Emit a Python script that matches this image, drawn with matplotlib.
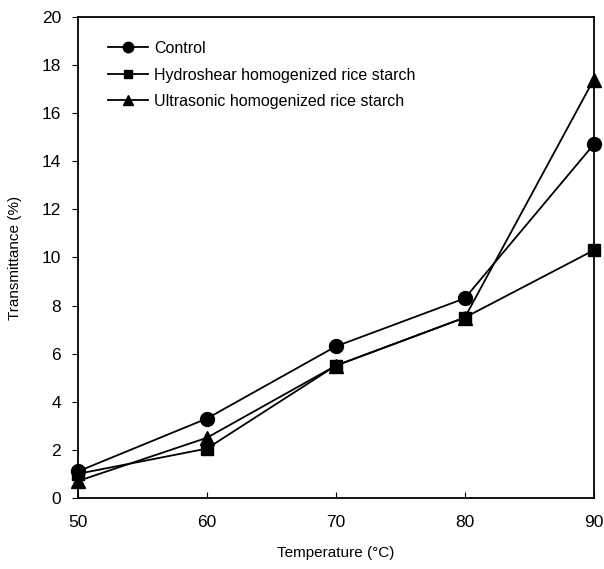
import matplotlib.pyplot as plt

plt.rcParams['font.family'] = ['Liberation Sans', 'DejaVu Sans']

temperature = [50, 60, 70, 80, 90]
control = [1.1, 3.3, 6.3, 8.3, 14.7]
hydroshear = [1.0, 2.05, 5.5, 7.5, 10.3]
ultrasonic = [0.7, 2.5, 5.5, 7.5, 17.4]

fig = plt.figure(figsize=(6.04, 5.69), dpi=100)
ax = fig.add_axes([0.129, 0.125, 0.854, 0.845])

ax.plot(temperature, control, color='black', marker='o', markersize=10, lw=1.3,
        label='Control', clip_on=False, zorder=3)
ax.plot(temperature, hydroshear, color='black', marker='s', markersize=8.5, lw=1.3,
        label='Hydroshear homogenized rice starch', clip_on=False, zorder=3)
ax.plot(temperature, ultrasonic, color='black', marker='^', markersize=10, lw=1.3,
        label='Ultrasonic homogenized rice starch', clip_on=False, zorder=3)

ax.set_xlim(50, 90)
ax.set_ylim(0, 20)
ax.set_xticks([50, 60, 70, 80, 90])
ax.set_yticks(range(0, 21, 2))
ax.tick_params(axis='y', direction='out', length=4, labelsize=12.5, pad=8)
ax.tick_params(axis='x', direction='in', length=4, labelsize=12.5, pad=12)
for s in ax.spines.values():
    s.set_linewidth(1.3)

ax.set_xlabel('Temperature (°C)', fontsize=11, labelpad=12)
ax.set_ylabel('Transmittance (%)', fontsize=11, labelpad=14)

ax.legend(loc='upper left', bbox_to_anchor=(0.03, 0.98), frameon=False, fontsize=11.5,
          handlelength=2.5, handletextpad=0.4, labelspacing=0.72, markerscale=0.75)

fig.savefig('out.png', dpi=100)
